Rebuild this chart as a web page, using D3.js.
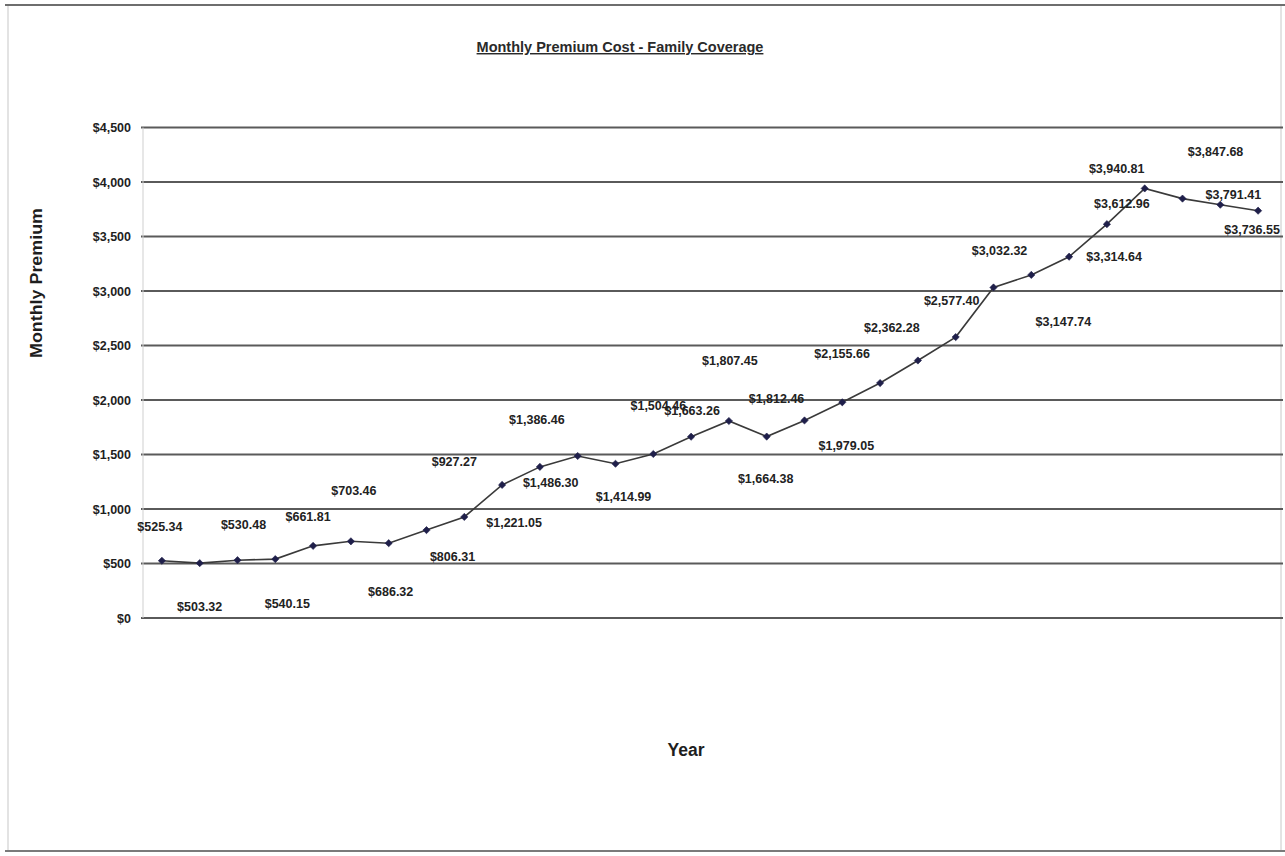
<!DOCTYPE html>
<html>
<head>
<meta charset="utf-8">
<script src="https://cdn.jsdelivr.net/npm/d3@7"></script>
<style>
  html, body { margin: 0; padding: 0; background: #fff; }
  svg { display: block; }
  text { font-family: "Liberation Sans", Arial, Helvetica, sans-serif; }
</style>
</head>
<body>
<svg id="chart" width="1285" height="856"></svg>
<script>
// Reporting periods along the category axis (no tick labels are shown)
const periods = [1, 2, 3, 4, 5, 6, 7, 8, 9, 10, 11, 12, 13, 14, 15,
                 16, 17, 18, 19, 20, 21, 22, 23, 24, 25, 26, 27, 28, 29, 30];

// Monthly premium, family coverage (dollars)
const premiums = [525.34, 503.32, 530.48, 540.15, 661.81, 703.46, 686.32, 806.31,
                  927.27, 1221.05, 1386.46, 1486.30, 1414.99, 1504.46, 1663.26,
                  1807.45, 1664.38, 1812.46, 1979.05, 2155.66, 2362.28, 2577.40,
                  3032.32, 3147.74, 3314.64, 3612.96, 3940.81, 3847.68, 3791.41,
                  3736.55];

// Value axis ticks and their labels
const yTicks = [0, 500, 1000, 1500, 2000, 2500, 3000, 3500, 4000, 4500];
const yTickLabels = ["$0", "$500", "$1,000", "$1,500", "$2,000", "$2,500",
                     "$3,000", "$3,500", "$4,000", "$4,500"];

// Data-label nudges (pixels from each marker) as laid out by the spreadsheet
const labelNudge = [[-2,-34],[0,43],[6,-36],[12,44],[-5,-29],[3,-51],[2,48],[26,26],
                    [-10,-55],[12,38],[-3,-47],[-27,27],[8,33],[5,-49],[1,-26],
                    [1,-60],[-1,42],[-28,-22],[4,43],[-38,-30],[-26,-33],[-4,-37],
                    [6,-37],[32,47],[45,0],[15,-21],[-28,-20],[33,-47],[13,-10],[-6,19]];

const svg = d3.select("#chart");
const fmt = d3.format("$,.2f");

const x = d3.scalePoint().domain(periods).range([143, 1277]).padding(0.5);
const y = d3.scaleLinear().domain([0, 4500]).range([618, 127.5]);

// Outer frame
svg.append("rect")
  .attr("x", 8).attr("y", 5).attr("width", 1273).attr("height", 846)
  .attr("fill", "none").attr("stroke", "#c8c8c8").attr("stroke-width", 1);
svg.append("line").attr("x1", 5).attr("x2", 1285).attr("y1", 5).attr("y2", 5)
  .attr("stroke", "#6e6e6e").attr("stroke-width", 2);
svg.append("line").attr("x1", 5).attr("x2", 1285).attr("y1", 851).attr("y2", 851)
  .attr("stroke", "#7a7a7a").attr("stroke-width", 2);

// Title (underlined)
const title = svg.append("text")
  .attr("x", 620).attr("y", 52)
  .attr("text-anchor", "middle")
  .attr("font-size", "14.5px").attr("font-weight", "bold").attr("fill", "#2a2a2a")
  .attr("text-decoration", "underline")
  .text("Monthly Premium Cost - Family Coverage");

// Horizontal gridlines
svg.append("g").selectAll("line")
  .data(yTicks)
  .join("line")
  .attr("x1", 141).attr("x2", 1283)
  .attr("y1", d => y(d)).attr("y2", d => y(d))
  .attr("stroke", "#5a5a5a").attr("stroke-width", 2);

// Faint value-axis line
svg.append("line")
  .attr("x1", 143).attr("x2", 143)
  .attr("y1", y(4500)).attr("y2", y(0))
  .attr("stroke", "#cfcfcf").attr("stroke-width", 1);

// Value axis labels
const yAxis = d3.axisLeft(y)
  .tickValues(yTicks)
  .tickSize(0)
  .tickPadding(0)
  .tickFormat((d, i) => yTickLabels[i]);
const gy = svg.append("g").attr("transform", "translate(131,0)").call(yAxis);
gy.select(".domain").remove();
gy.selectAll("text")
  .attr("font-family", "'Liberation Sans', Arial, sans-serif")
  .attr("font-size", "12.5px").attr("font-weight", "bold").attr("fill", "#1e1e1e");

// Axis titles
svg.append("text")
  .attr("transform", "translate(42,283) rotate(-90)")
  .attr("text-anchor", "middle")
  .attr("font-size", "17px").attr("font-weight", "bold").attr("fill", "#1e1e1e")
  .attr("textLength", 150).attr("lengthAdjust", "spacingAndGlyphs")
  .text("Monthly Premium");

svg.append("text")
  .attr("x", 686).attr("y", 756)
  .attr("text-anchor", "middle")
  .attr("font-size", "17.5px").attr("font-weight", "bold").attr("fill", "#1e1e1e")
  .text("Year");

// Series line
const line = d3.line()
  .x((d, i) => x(periods[i]))
  .y(d => y(d));
svg.append("path")
  .datum(premiums)
  .attr("d", line)
  .attr("fill", "none").attr("stroke", "#3a3a3a").attr("stroke-width", 1.6);

// Diamond markers
const diamond = d3.symbol().type(d3.symbolSquare).size(26);
svg.append("g").selectAll("path")
  .data(premiums)
  .join("path")
  .attr("d", diamond)
  .attr("transform", (d, i) => `translate(${x(periods[i])},${y(d)}) rotate(45)`)
  .attr("fill", "#1f1f4a").attr("stroke", "#1f1f4a").attr("stroke-width", 0.6);

// Data labels
svg.append("g").selectAll("text")
  .data(premiums)
  .join("text")
  .attr("x", (d, i) => x(periods[i]) + labelNudge[i][0])
  .attr("y", (d, i) => y(d) + labelNudge[i][1])
  .attr("dy", "0.36em")
  .attr("text-anchor", "middle")
  .attr("font-size", "12.5px").attr("font-weight", "bold").attr("fill", "#222")
  .text(d => fmt(d));
</script>
</body>
</html>
